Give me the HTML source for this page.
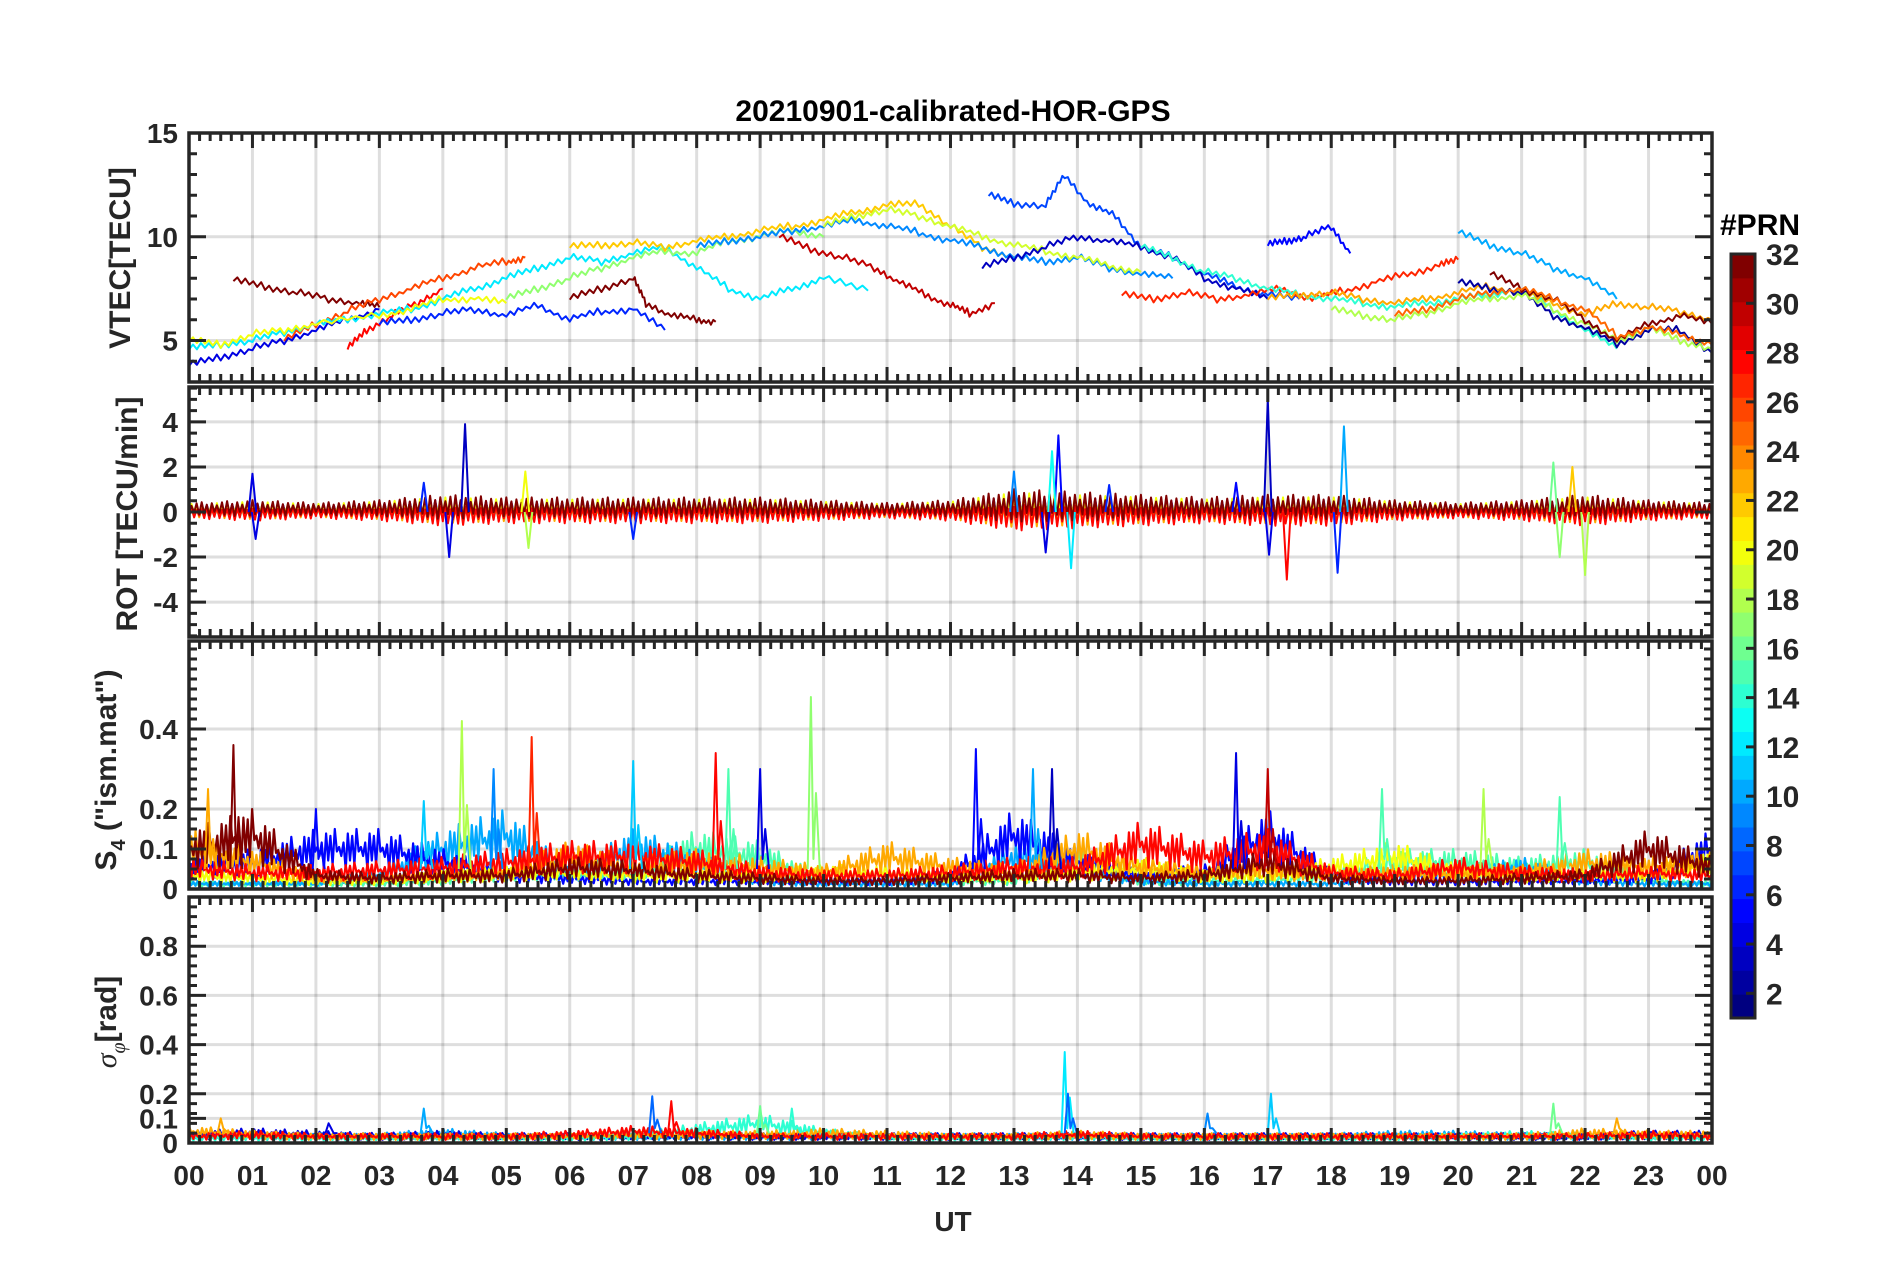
<!DOCTYPE html>
<html><head><meta charset="utf-8"><style>
html,body{margin:0;padding:0;background:#fff;}
svg{display:block;font-family:"Liberation Sans",sans-serif;font-weight:bold;}
</style></head>
<body>
<svg id="fig" width="1902" height="1272" viewBox="0 0 1902 1272" xmlns="http://www.w3.org/2000/svg">
<rect width="1902" height="1272" fill="#fff"/>
<text x="953" y="121" text-anchor="middle" font-size="30" fill="#000">20210901-calibrated-HOR-GPS</text>
<text x="953" y="1231" text-anchor="middle" font-size="28" fill="#262626">UT</text>
<text transform="translate(130,258) rotate(-90)" text-anchor="middle" font-size="30" fill="#262626">VTEC[TECU]</text>
<text transform="translate(137,514) rotate(-90)" text-anchor="middle" font-size="30" fill="#262626">ROT [TECU/min]</text>
<text transform="translate(116,770) rotate(-90)" text-anchor="middle" font-size="30" fill="#262626">S<tspan font-size="20" dy="9">4</tspan><tspan dy="-9"> ("ism.mat")</tspan></text>
<text transform="translate(116,1022) rotate(-90)" text-anchor="middle" font-size="30" fill="#262626"><tspan font-family="Liberation Serif" font-style="italic" font-weight="normal">σ</tspan><tspan font-size="20" dy="9" font-family="Liberation Serif" font-style="italic" font-weight="normal">φ</tspan><tspan dy="-9">[rad]</tspan></text>
<text x="1720" y="235" font-size="30" fill="#000">#PRN</text>
<g id="layer"></g>
</svg>
<script>
// ---------- data ----------
const hourLabels = ["00","01","02","03","04","05","06","07","08","09","10","11","12","13","14","15","16","17","18","19","20","21","22","23","00"];
const vtecPrn = [32,26,28,4,6,12,17,20,22,32,30,9,19,7,3,5,27,14,23,2,10,18,32,25];
const vtecTimes = [
 [0.7,1.2,1.7,2.2,2.7,3.0],
 [1.5,2.0,2.5,3.0,3.5,4.0,4.5,5.0,5.3],
 [2.5,2.8,3.2,3.6,4.0],
 [0,0.5,1.0,1.5,2.0,2.5,3.0],
 [3.0,3.5,4.0,4.5,5.0,5.5,6.0,6.5,7.0,7.5],
 [0,0.5,1.0,1.5,2.0,2.5,3.0,3.5,4.0,4.5,5.0,5.5,6.0,6.5,7.0,7.5,8.0,8.5,9.0,9.5,10.0,10.7],
 [5.0,5.5,6.0,6.5,7.0,7.5,8.0,8.5,9.0,9.5,10.0],
 [0,0.5,1.0,1.5,2.0,3.0,3.5,4.0,4.5,5.0],
 [6.0,6.5,7.0,7.5,8.0,8.5,9.0,9.5,10.0,10.5,11.0,11.5,12.0,12.5,13.0],
 [6.0,6.5,7.0,7.2,7.6,8.0,8.3],
 [9.3,9.8,10.3,10.8,11.2,11.6,12.0,12.3,12.7],
 [8.0,8.5,9.0,9.5,10.0,10.5,11.0,11.5,12.0,12.5,13.0,13.5,14.0,14.5,15.0,15.5],
 [10.0,10.5,11.0,11.5,12.0,12.5,13.0,13.5,14.0,14.5,15.0],
 [12.6,13.0,13.5,13.8,14.2,14.6,15.0,15.5,16.0,16.5,17.0,17.5],
 [12.5,13.0,13.5,14.0,14.5,15.0,15.5,16.0,16.5,17.0],
 [17.0,17.3,17.6,18.0,18.3],
 [14.7,15.2,15.7,16.2,16.7,17.2,17.7,18.2,18.7,19.2,19.7,20.0],
 [15.0,15.5,16.0,16.5,17.0,17.5,18.0,18.5,19.0,19.5,20.0,20.5,21.0,21.5,22.0,22.5],
 [17.0,17.5,18.0,18.5,19.0,19.5,20.0,20.5,21.0,21.5,22.0,22.5,23.0,23.5,24.0],
 [20.0,20.5,21.0,21.5,22.0,22.5,23.0,23.5,24.0],
 [20.0,20.5,21.0,21.5,22.0,22.5],
 [18.0,18.5,19.0,19.5,20.0,20.5,21.0,21.5,22.0,22.5,23.0,23.5,24.0],
 [20.5,21.0,21.5,22.0,22.5,23.0,23.5,24.0],
 [19.0,19.5,20.0,20.5,21.0,21.5,22.0,22.5,23.0,23.5,24.0]
];
const vtecValues = [
 [7.9,7.6,7.3,7.0,6.8,6.6],
 [5.0,5.8,6.4,7.0,7.5,8.0,8.5,8.8,9.0],
 [4.6,5.5,6.2,6.8,7.5],
 [3.8,4.2,4.6,5.0,5.5,6.0,6.5],
 [5.8,6.0,6.3,6.5,6.2,6.7,6.0,6.4,6.5,5.5],
 [4.6,4.8,5.0,5.4,5.8,6.0,6.3,6.5,7.0,7.5,8.0,8.5,9.0,8.8,9.2,9.5,8.5,7.5,7.0,7.5,8.0,7.4],
 [7.0,7.5,8.0,8.5,9.0,9.3,9.2,9.8,10.0,10.3,10.0],
 [5.0,4.8,5.3,5.5,5.8,6.2,6.5,7.0,7.0,6.8],
 [9.5,9.6,9.7,9.5,9.8,10.0,10.3,10.5,10.8,11.2,11.5,11.6,10.5,9.5,9.0],
 [7.0,7.5,8.0,6.8,6.2,6.0,5.9],
 [10.0,9.4,9.0,8.5,7.8,7.2,6.7,6.3,6.8],
 [9.5,9.8,10.0,10.3,10.5,10.8,10.5,10.2,9.8,9.5,9.0,8.8,9.0,8.5,8.2,8.0],
 [10.5,11.0,11.3,11.0,10.5,10.0,9.6,9.3,9.0,8.6,8.3],
 [12.0,11.6,11.5,13.0,11.5,11.0,9.5,9.0,8.2,7.6,7.2,7.0],
 [8.5,9.0,9.5,10.0,9.8,9.5,9.0,8.0,7.5,7.0],
 [9.6,9.8,10.0,10.5,9.2],
 [7.2,7.0,7.3,7.0,7.2,7.5,7.0,7.4,7.8,8.2,8.6,8.9],
 [9.5,9.0,8.3,8.0,7.5,7.2,7.0,6.8,6.6,6.8,7.0,7.2,7.5,6.5,5.5,4.6],
 [7.0,7.2,7.3,7.0,6.8,7.0,7.3,7.6,7.3,6.8,6.2,6.8,6.6,6.4,6.0],
 [7.8,7.5,7.3,6.2,5.6,4.8,5.5,5.5,4.4],
 [10.2,9.6,9.2,8.5,8.0,7.0],
 [6.5,6.2,6.0,6.3,6.8,7.0,7.2,6.5,5.8,5.0,5.6,5.0,4.6],
 [8.2,7.5,7.0,6.0,5.0,5.8,6.2,5.8],
 [6.2,6.5,7.0,7.3,7.5,7.0,6.5,5.2,5.6,5.3,4.8]
];

const rotEnvelope = [0.3,0.4,0.3,0.4,0.6,0.5,0.5,0.5,0.5,0.5,0.4,0.3,0.4,0.8,0.7,0.6,0.5,0.6,0.6,0.4,0.3,0.4,0.6,0.4,0.3];
const rotSeriesPrn = [17,13,4,23,20,28,32];
const rotSpikeT = [1.0,1.05,4.35,4.1,5.3,5.35,13.7,13.9,13.6,13.5,17.0,17.02,17.3,18.2,18.1,21.5,21.6,22.0,21.8,14.5,16.5,13.0,3.7,7.0];
const rotSpikeV = [1.7,-1.2,3.9,-2.0,1.8,-1.6,3.4,-2.5,2.7,-1.8,5.0,-1.9,-3.0,3.8,-2.7,2.2,-2.0,-2.8,2.0,1.2,1.3,1.8,1.3,-1.2];
const rotSpikePrn = [4,4,3,4,20,18,5,12,13,4,3,4,28,10,6,16,17,18,22,6,5,9,6,6];

const s4SeriesPrn = [15,10,5,20,23,28,32];
const s4Env = [
 [0.02,0.02,0.02,0.02,0.03,0.05,0.05,0.05,0.15,0.12,0.03,0.03,0.03,0.03,0.12,0.03,0.03,0.03,0.05,0.1,0.1,0.08,0.1,0.03,0.02],
 [0.02,0.02,0.02,0.05,0.15,0.2,0.05,0.15,0.1,0.03,0.02,0.02,0.02,0.12,0.08,0.03,0.02,0.02,0.02,0.05,0.05,0.08,0.03,0.02,0.02],
 [0.08,0.1,0.15,0.15,0.1,0.05,0.04,0.03,0.03,0.03,0.03,0.03,0.05,0.2,0.1,0.05,0.06,0.2,0.05,0.03,0.03,0.03,0.03,0.04,0.15],
 [0.05,0.04,0.03,0.03,0.05,0.06,0.06,0.05,0.05,0.05,0.06,0.06,0.04,0.04,0.06,0.08,0.05,0.05,0.08,0.12,0.06,0.05,0.06,0.05,0.1],
 [0.15,0.1,0.04,0.04,0.05,0.06,0.12,0.08,0.1,0.08,0.06,0.12,0.08,0.06,0.15,0.08,0.06,0.07,0.05,0.06,0.06,0.06,0.1,0.08,0.1],
 [0.08,0.06,0.06,0.07,0.08,0.1,0.12,0.12,0.1,0.06,0.05,0.05,0.06,0.08,0.08,0.17,0.12,0.15,0.06,0.05,0.08,0.06,0.05,0.06,0.05],
 [0.15,0.2,0.05,0.04,0.05,0.05,0.08,0.07,0.05,0.04,0.03,0.03,0.04,0.05,0.05,0.04,0.05,0.1,0.04,0.03,0.03,0.04,0.05,0.15,0.08]
];
const s4SpikeT = [0.7,4.3,5.4,7.0,8.3,8.5,9.0,9.8,12.4,13.3,13.6,16.5,17.0,18.8,20.4,21.6,4.8,3.7,0.3,2.0];
const s4SpikeV = [0.36,0.42,0.38,0.32,0.34,0.30,0.30,0.48,0.35,0.30,0.30,0.34,0.30,0.25,0.25,0.23,0.30,0.22,0.25,0.20];
const s4SpikePrn = [32,18,27,11,28,15,4,17,5,10,3,4,30,15,18,15,9,11,23,5];

const sigSeriesPrn = [10,4,14,23,28];
const sigEnv = [
 [0.04,0.04,0.04,0.04,0.06,0.04,0.04,0.04,0.04,0.04,0.04,0.04,0.04,0.04,0.04,0.04,0.04,0.04,0.04,0.05,0.05,0.04,0.04,0.04,0.04],
 [0.05,0.06,0.05,0.04,0.05,0.04,0.04,0.04,0.04,0.04,0.04,0.04,0.04,0.04,0.04,0.04,0.04,0.04,0.04,0.04,0.04,0.04,0.04,0.05,0.05],
 [0.03,0.03,0.03,0.03,0.03,0.03,0.03,0.04,0.08,0.12,0.06,0.03,0.03,0.03,0.04,0.03,0.03,0.03,0.03,0.03,0.04,0.05,0.04,0.03,0.03],
 [0.07,0.05,0.04,0.04,0.04,0.04,0.04,0.05,0.05,0.05,0.06,0.05,0.04,0.04,0.05,0.04,0.04,0.04,0.04,0.04,0.04,0.04,0.06,0.05,0.05],
 [0.04,0.05,0.04,0.04,0.04,0.04,0.05,0.07,0.06,0.04,0.04,0.04,0.04,0.04,0.05,0.04,0.04,0.04,0.04,0.04,0.04,0.04,0.04,0.05,0.04]
];
const sigSpikeT = [0.5,3.7,7.3,7.6,9.0,9.5,13.8,13.85,17.05,16.05,21.5,22.5,2.2];
const sigSpikeV = [0.10,0.14,0.19,0.17,0.15,0.14,0.37,0.20,0.20,0.12,0.16,0.10,0.08];
const sigSpikePrn = [23,10,8,28,16,14,12,8,11,9,16,23,4];

// ---------- layout ----------
const L=189, R=1712;
const panels = [
 {name:'vtec', top:133, bot:382, min:3, max:15, major:[5,10,15], labels:['5','10','15'], minor:1},
 {name:'rot', top:387, bot:637, min:-5.55, max:5.55, major:[-4,-2,0,2,4], labels:['-4','-2','0','2','4'], minor:0.5},
 {name:'s4', top:641, bot:889, min:0, max:0.62, major:[0,0.1,0.2,0.4], labels:['0','0.1','0.2','0.4'], minor:0.025},
 {name:'sigma', top:897, bot:1143, min:0, max:1.0, major:[0,0.1,0.2,0.4,0.6,0.8], labels:['0','0.1','0.2','0.4','0.6','0.8'], minor:0.04}
];
const NS='http://www.w3.org/2000/svg';
const layer=document.getElementById('layer');
function mk(tag, a, parent){const e=document.createElementNS(NS,tag);for(const k in a)e.setAttribute(k,a[k]);(parent||layer).appendChild(e);return e;}
function xs(t){return L+(R-L)*t/24;}
function ysF(p){return v=>p.bot-(p.bot-p.top)*(v-p.min)/(p.max-p.min);}
function jet(v){
  const c=x=>Math.max(0,Math.min(1,x));
  const r=c(1.5-Math.abs(4*v-3)), g=c(1.5-Math.abs(4*v-2)), b=c(1.5-Math.abs(4*v-1));
  return `rgb(${Math.round(r*255)},${Math.round(g*255)},${Math.round(b*255)})`;
}
function prnColor(p){return jet((p-1)/31);}
function interp(env,t){const i=Math.min(23,Math.floor(t));const f=t-i;return env[i]*(1-f)+env[i+1]*f;}
const wig=[0.2,0.9,0.4,1.0,0.3,0.7,0.5,0.85,0.1,0.6];

panels.forEach((p,pi)=>{
  const y=ysF(p);
  const g=mk('g',{});
  
  
  for(let h=1;h<24;h++){
    const gl=mk('line',{x1:xs(h),x2:xs(h),y1:p.top,y2:p.bot,stroke:'#000','stroke-opacity':0.13,'stroke-width':3},g);
    
    
  }
  p.major.forEach(v=>{
    if(v===p.min) return;
    const gl=mk('line',{x1:L,x2:R,y1:y(v),y2:y(v),stroke:'#000','stroke-opacity':0.13,'stroke-width':3},g);
    
    
  });
  const clipId='clip'+pi;
  const cp=mk('clipPath',{id:clipId},g);
  mk('rect',{x:L,y:p.top,width:R-L,height:p.bot-p.top},cp);
  const dg=mk('g',{'clip-path':`url(#${clipId})`,fill:'none','stroke-linejoin':'round'},g);
  
  

  if(p.name==='vtec'){
    vtecPrn.forEach((prn,i)=>{
      const pts=[];const T=vtecTimes[i],V=vtecValues[i];
      for(let k=0;k<T.length-1;k++){
        const n=8;
        for(let j=0;j<n;j++){const t=T[k]+(T[k+1]-T[k])*j/n;const v=V[k]+(V[k+1]-V[k])*j/n+((j%2)?0.2:-0.18)*wig[(k+j)%10];pts.push(xs(t).toFixed(1)+','+y(v).toFixed(1));}
      }
      pts.push(xs(T[T.length-1]).toFixed(1)+','+y(V[V.length-1]).toFixed(1));
      const pl=mk('polyline',{points:pts.join(' '),stroke:prnColor(prn),'stroke-width':2},dg);
      
      
    });
  }
  if(p.name==='rot'){
    rotSeriesPrn.forEach((prn,si)=>{
      const pts=[];
      for(let k=0;k<=600;k++){const t=k*0.04;const a=interp(rotEnvelope,t)*(0.6+0.1*si);const s=(k%2?1:-1)*wig[(k+si*3)%10];pts.push(xs(t).toFixed(1)+','+y(a*s+0.05).toFixed(1));}
      const pl=mk('polyline',{points:pts.join(' '),stroke:prnColor(prn),'stroke-width':2},dg);
      
      
    });
    rotSpikeT.forEach((t,i)=>{
      const pl=mk('polyline',{points:`${xs(t-0.06)},${y(0)} ${xs(t)},${y(rotSpikeV[i])} ${xs(t+0.06)},${y(0)}`,stroke:prnColor(rotSpikePrn[i]),'stroke-width':2},dg);
      
      
    });
  }
  if(p.name==='s4' || p.name==='sigma'){
    const prns = p.name==='s4'?s4SeriesPrn:sigSeriesPrn;
    const envs = p.name==='s4'?s4Env:sigEnv;
    const sT = p.name==='s4'?s4SpikeT:sigSpikeT, sV=p.name==='s4'?s4SpikeV:sigSpikeV, sP=p.name==='s4'?s4SpikePrn:sigSpikePrn;
    prns.forEach((prn,si)=>{
      const pts=[];
      for(let k=0;k<=700;k++){const t=k*24/700;const a=interp(envs[si],t);const s=0.25+0.75*wig[(k*3+si)%10];pts.push(xs(t).toFixed(1)+','+y(a*s).toFixed(1));}
      const pl=mk('polyline',{points:pts.join(' '),stroke:prnColor(prn),'stroke-width':2.2},dg);
      
      
    });
    sT.forEach((t,i)=>{
      const base=p.name==='s4'?0.05:0.04;
      const pl=mk('polyline',{points:`${xs(t-0.05)},${y(base)} ${xs(t)},${y(sV[i])} ${xs(t+0.04)},${y(base*1.5)} ${xs(t+0.08)},${y(sV[i]*0.5)} ${xs(t+0.14)},${y(base)}`,stroke:prnColor(sP[i]),'stroke-width':2},dg);
      
      
    });
  }

  let d='';
  for(let m=0;m<=144;m++){const x=xs(m/6);const len=(m%6===0)?15:8;d+=`M${x},${p.top}v${len}M${x},${p.bot}v${-len}`;}
  const nMin=Math.round((p.max-p.min)/p.minor)+2;
  const start=Math.ceil(p.min/p.minor)*p.minor;
  for(let k=0;k<nMin;k++){const v=start+k*p.minor;if(v>p.max+1e-9)break;const yy=y(v);d+=`M${L},${yy}h8M${R},${yy}h-8`;}
  p.major.forEach(v=>{const yy=y(v);d+=`M${L},${yy}h17M${R},${yy}h-17`;});
  const tk=mk('path',{d:d,stroke:'#262626','stroke-width':3,fill:'none'},g);
  
  
  const fr=mk('rect',{x:L,y:p.top,width:R-L,height:p.bot-p.top,fill:'none',stroke:'#262626','stroke-width':3.5},g);
  
  
  p.major.forEach((v,i)=>{
    const tx=mk('text',{x:178,y:y(v)+10,'text-anchor':'end','font-size':28,fill:'#262626'},g);
    tx.textContent=p.labels[i];
    
    
  });
});
hourLabels.forEach((s,h)=>{
  const tx=mk('text',{x:xs(h),y:1185,'text-anchor':'middle','font-size':28,fill:'#262626'});
  tx.textContent=s;
  
  
});
const cbTop=254, cbBot=1018, cbX=1731, cbW=24;
const cbTicks=[2,4,6,8,10,12,14,16,18,20,22,24,26,28,30,32];
const cby=v=>cbBot-(cbBot-cbTop)*(v-1)/31;
const cb=mk('g',{});


for(let i=0;i<32;i++){
  const y1=cbBot-(cbBot-cbTop)*(i+1)/32, y0=cbBot-(cbBot-cbTop)*i/32;
  const r=mk('rect',{x:cbX,y:y1,width:cbW,height:y0-y1+0.5,fill:jet(i/31)},cb);
  
  
}
const cbf=mk('rect',{x:cbX,y:cbTop,width:cbW,height:cbBot-cbTop,fill:'none',stroke:'#262626','stroke-width':3},cb);


cbTicks.forEach(v=>{
  const l=mk('line',{x1:cbX+cbW-9,x2:cbX+cbW,y1:cby(v),y2:cby(v),stroke:'#262626','stroke-width':3},cb);
  
  
  const tx=mk('text',{x:1766,y:cby(v)+11,'font-size':30,fill:'#262626'},cb);
  tx.textContent=String(v);
  
  
});
</script>
</body></html>
